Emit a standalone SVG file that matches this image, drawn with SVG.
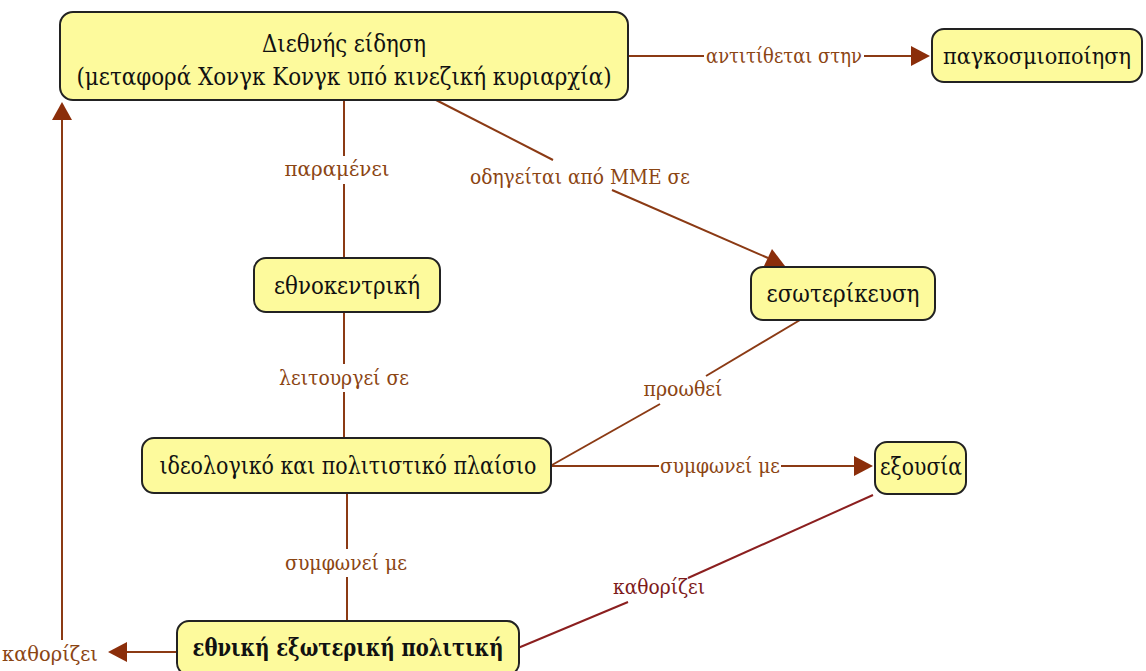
<svg xmlns="http://www.w3.org/2000/svg" width="1146" height="671" viewBox="0 0 1146 671">
<defs>
<style>
.node rect{fill:#fdfa9c;stroke:#222;stroke-width:2}
.node text{font-family:'DejaVu Serif','Liberation Serif',serif;font-size:24px;fill:#111;text-anchor:middle;dominant-baseline:central}
.lbl{font-family:'DejaVu Serif','Liberation Serif',serif;font-size:21px;fill:#8b4513;text-anchor:middle;dominant-baseline:central}
.lbl2{fill:#7d1a1a}
.e{stroke:#8b3a14;stroke-width:2;fill:none}
.e2{stroke:#8b1f1f;stroke-width:2;fill:none}
.ah{fill:#8b2e0a}
</style>
</defs>
<rect width="1146" height="671" fill="#fff"/>
<g id="connectors">
<path class="e" d="M628,56 L704,56"/>
<path class="e" d="M864,56 L911,56"/>
<path class="ah" d="M911,46 L930,56 L911,66 Z"/>
<text class="lbl" x="784" y="56" textLength="156" lengthAdjust="spacingAndGlyphs">αντιτίθεται στην</text>

<path class="e" d="M344,100 L344,156"/>
<path class="e" d="M344,184 L344,258"/>
<text class="lbl" x="337" y="169" textLength="105" lengthAdjust="spacingAndGlyphs">παραμένει</text>

<path class="e" d="M436,100 L553,160"/>
<path class="e" d="M612,190 L768,258"/>
<path class="ah" d="M764,266 L772,249 L785,266 Z"/>
<text class="lbl" x="580" y="177" textLength="220" lengthAdjust="spacingAndGlyphs">οδηγείται από ΜΜΕ σε</text>

<path class="e" d="M344,312 L344,364"/>
<path class="e" d="M344,392 L344,438"/>
<text class="lbl" x="344" y="378" textLength="130" lengthAdjust="spacingAndGlyphs">λειτουργεί σε</text>

<path class="e" d="M800,320 L706,376"/>
<path class="e" d="M660,404 L552,465"/>
<text class="lbl" x="683" y="389" textLength="79" lengthAdjust="spacingAndGlyphs">προωθεί</text>

<path class="e" d="M551,466 L659,466"/>
<path class="e" d="M781,466 L854,466"/>
<path class="ah" d="M854,456 L873,466 L854,476 Z"/>
<text class="lbl" x="720" y="466" textLength="120" lengthAdjust="spacingAndGlyphs">συμφωνεί με</text>

<path class="e" d="M347,493 L347,549"/>
<path class="e" d="M347,577 L347,621"/>
<text class="lbl" x="346" y="563" textLength="122" lengthAdjust="spacingAndGlyphs">συμφωνεί με</text>

<path class="e2" d="M873,495 L688,578"/>
<path class="e2" d="M628,602 L518,648"/>
<text class="lbl lbl2" x="659" y="587" textLength="92" lengthAdjust="spacingAndGlyphs">καθορίζει</text>

<path class="e" d="M177,652 L127,652"/>
<path class="ah" d="M127,642 L108,652 L127,662 Z"/>
<text class="lbl" x="50" y="654" textLength="96" lengthAdjust="spacingAndGlyphs">καθορίζει</text>
<path class="e" d="M62,640 L62,120"/>
<path class="ah" d="M52,120 L62,102 L72,120 Z"/>
</g>
<g id="n-eidisi" class="node">
<rect x="60" y="12" width="568" height="88" rx="13"/>
<text x="344" y="44" textLength="164" lengthAdjust="spacingAndGlyphs">Διεθνής είδηση</text>
<text x="344" y="77" textLength="535" lengthAdjust="spacingAndGlyphs">(μεταφορά Χονγκ Κονγκ υπό κινεζική κυριαρχία)</text>
</g>
<g id="n-pagkosm" class="node">
<rect x="932" y="29" width="210" height="53" rx="12"/>
<text x="1037" y="56" style="font-size:22px" textLength="188" lengthAdjust="spacingAndGlyphs">παγκοσμιοποίηση</text>
</g>
<g id="n-ethnokentriki" class="node">
<rect x="254" y="258" width="186" height="54" rx="12"/>
<text x="347" y="286" textLength="146" lengthAdjust="spacingAndGlyphs">εθνοκεντρική</text>
</g>
<g id="n-esoterikeusi" class="node">
<rect x="751" y="267" width="184" height="53" rx="12"/>
<text x="843" y="294" textLength="153" lengthAdjust="spacingAndGlyphs">εσωτερίκευση</text>
</g>
<g id="n-plaisio" class="node">
<rect x="142" y="438" width="409" height="55" rx="12"/>
<text x="348" y="466" textLength="377" lengthAdjust="spacingAndGlyphs">ιδεολογικό και πολιτιστικό πλαίσιο</text>
</g>
<g id="n-exousia" class="node">
<rect x="875" y="442" width="91" height="52" rx="12"/>
<text x="921" y="467" textLength="82" lengthAdjust="spacingAndGlyphs">εξουσία</text>
</g>
<g id="n-politiki" class="node">
<rect x="177" y="621" width="342" height="54" rx="12"/>
<text x="348" y="647" style="font-weight:bold" textLength="311" lengthAdjust="spacingAndGlyphs">εθνική εξωτερική πολιτική</text>
</g>
</svg>
